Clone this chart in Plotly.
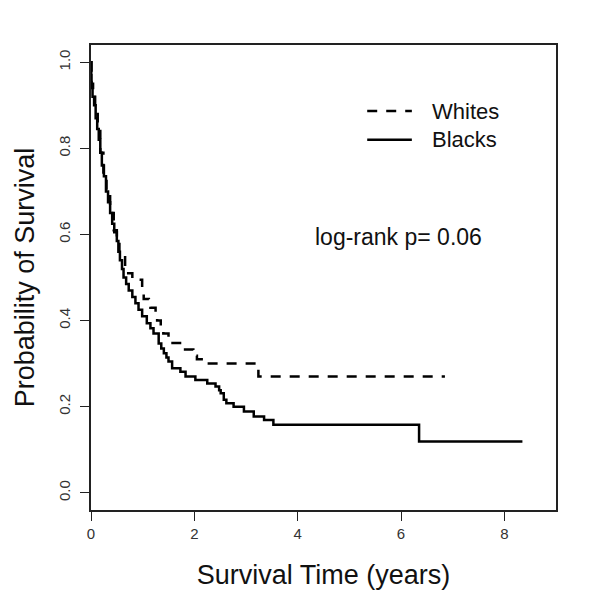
import plotly.graph_objects as go

# Kaplan-Meier step points
blacks_time = [0.00, 0.005, 0.01, 0.03, 0.06, 0.09, 0.12, 0.15, 0.18, 0.21, 0.25, 0.29,
               0.33, 0.37, 0.41, 0.45, 0.50, 0.53, 0.56, 0.60, 0.63, 0.68, 0.73, 0.80,
               0.86, 0.92, 0.99, 1.08, 1.15, 1.21, 1.31, 1.36, 1.41, 1.46, 1.50, 1.57,
               1.73, 1.83, 2.02, 2.25, 2.41, 2.48, 2.51, 2.57, 2.62, 2.76, 2.96, 3.15,
               3.35, 3.53, 6.35, 8.35]
blacks_surv = [1.00, 0.97, 0.94, 0.92, 0.90, 0.87, 0.845, 0.82, 0.79, 0.76, 0.735, 0.70,
               0.675, 0.65, 0.625, 0.605, 0.585, 0.56, 0.54, 0.52, 0.50, 0.485, 0.47, 0.455,
               0.44, 0.425, 0.41, 0.394, 0.382, 0.37, 0.347, 0.335, 0.324, 0.314, 0.305, 0.289,
               0.281, 0.27, 0.262, 0.254, 0.247, 0.238, 0.231, 0.216, 0.208, 0.20, 0.189, 0.177,
               0.169, 0.158, 0.119, 0.119]

whites_time = [0.00, 0.01, 0.04, 0.08, 0.13, 0.18, 0.24, 0.30, 0.37, 0.44, 0.50, 0.55,
               0.66, 0.72, 0.80, 0.99, 1.02, 1.12, 1.15, 1.25, 1.28, 1.35, 1.40, 1.50,
               1.54, 1.75, 1.98, 2.05, 2.20, 3.24, 6.85]
whites_surv = [1.00, 0.95, 0.92, 0.88, 0.84, 0.79, 0.74, 0.70, 0.65, 0.61, 0.585, 0.55,
               0.525, 0.51, 0.495, 0.465, 0.45, 0.44, 0.43, 0.41, 0.40, 0.38, 0.37, 0.36,
               0.348, 0.333, 0.318, 0.31, 0.30, 0.27, 0.27]

x_ticks = [0, 2, 4, 6, 8]
y_ticks = [0.0, 0.2, 0.4, 0.6, 0.8, 1.0]
y_tick_text = ["0.0", "0.2", "0.4", "0.6", "0.8", "1.0"]

FONT = "Liberation Sans, Arial, sans-serif"

fig = go.Figure()
fig.add_trace(go.Scatter(x=whites_time, y=whites_surv, mode="lines", line_shape="hv",
                         line=dict(color="black", width=2.5, dash="10px,9px"),
                         name="Whites", showlegend=False))
fig.add_trace(go.Scatter(x=blacks_time, y=blacks_surv, mode="lines", line_shape="hv",
                         line=dict(color="black", width=2.5),
                         name="Blacks", showlegend=False))

# manual legend
fig.add_shape(type="line", xref="paper", yref="paper", x0=0.594, x1=0.690, y0=0.858, y1=0.858,
              line=dict(color="black", width=2.5, dash="10px,9px"))
fig.add_shape(type="line", xref="paper", yref="paper", x0=0.594, x1=0.690, y0=0.796, y1=0.796,
              line=dict(color="black", width=2.5))
fig.add_annotation(x=0.729, y=0.858, xref="paper", yref="paper", text="Whites", showarrow=False,
                   xanchor="left", yanchor="middle", font=dict(family=FONT, size=22, color="#111"))
fig.add_annotation(x=0.729, y=0.796, xref="paper", yref="paper", text="Blacks", showarrow=False,
                   xanchor="left", yanchor="middle", font=dict(family=FONT, size=22, color="#111"))
fig.add_annotation(x=0.662, y=0.587, xref="paper", yref="paper", text="log-rank p= 0.06",
                   showarrow=False, xanchor="center", yanchor="middle",
                   font=dict(family=FONT, size=23, color="#111"))

# the page body adds an 8px offset, so margins compensate for it
fig.update_layout(
    width=601, height=601,
    margin=dict(l=83, r=53, t=37, b=99),
    plot_bgcolor="white", paper_bgcolor="white",
    font=dict(family=FONT, color="#222"),
)
fig.update_xaxes(range=[0, 9], tickvals=x_ticks, ticktext=[str(v) for v in x_ticks],
                 automargin=False,
                 showgrid=False, zeroline=False, showline=True, linecolor="#222", linewidth=1.5,
                 mirror=True, ticks="outside", ticklen=9, tickwidth=1.2, tickcolor="#222",
                 tickfont=dict(size=15, color="#333"),
                 title=dict(text="Survival Time (years)", font=dict(size=27, color="#111"), standoff=24))
fig.update_yaxes(range=[-0.04, 1.04], tickvals=y_ticks, ticktext=y_tick_text,
                 automargin=False,
                 showgrid=False, zeroline=False, showline=True, linecolor="#222", linewidth=1.5,
                 mirror=True, ticks="outside", ticklen=9, tickwidth=1.2, tickcolor="#222",
                 tickangle=-90, tickfont=dict(size=15, color="#333"), ticklabelstandoff=4,
                 title=dict(text="Probability of Survival", font=dict(size=27, color="#111"), standoff=14))

fig.write_html("out.html")
